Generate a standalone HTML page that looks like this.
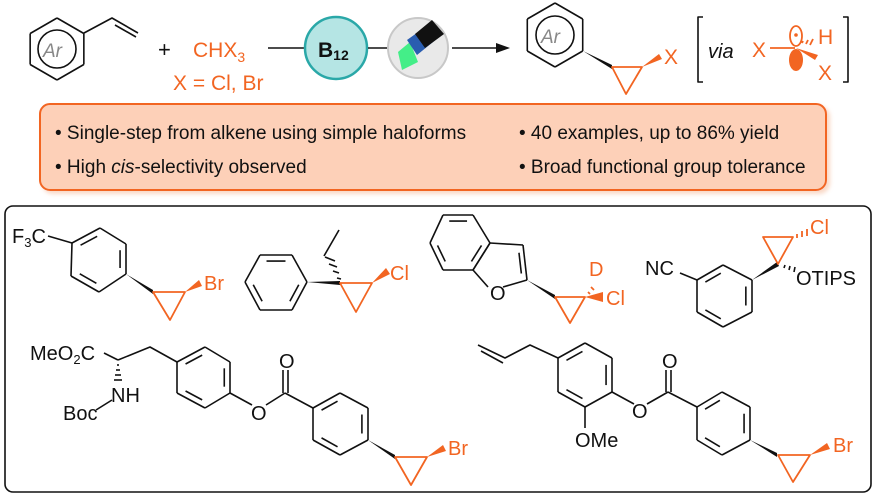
<!DOCTYPE html>
<html><head><meta charset="utf-8"><style>
html,body{margin:0;padding:0;background:#fff;}
svg{display:block;font-family:"Liberation Sans",sans-serif;}
.k{stroke:#111;stroke-width:1.6;fill:none;stroke-linejoin:round}
.o{stroke:#f26522;stroke-width:1.8;fill:none;stroke-linejoin:round}
.ot{fill:#f26522}
.kt{fill:#111}
</style></head><body>
<svg id="s" width="875" height="496" viewBox="0 0 875 496">
<defs><filter id="sh" x="-5%" y="-20%" width="110%" height="140%"><feDropShadow dx="3" dy="3" stdDeviation="2" flood-color="#f9d8c6" flood-opacity="1"/></filter></defs>
<g id="rings"></g>
<circle cx="57" cy="49" r="19" class="k"/>
<text x="43" y="57" font-size="19" font-style="italic" fill="#888">Ar</text>
<polyline class="k" points="84,33 112,18 138,33"/>
<line class="k" x1="115" y1="25" x2="136" y2="37"/>
<text x="158" y="57" font-size="22" class="kt">+</text>
<text x="193" y="57" font-size="21" class="ot">CHX<tspan font-size="14" dy="5">3</tspan></text>
<text x="173" y="90" font-size="21" class="ot">X = Cl, Br</text>
<line class="k" x1="268" y1="48" x2="305" y2="48"/>
<circle cx="336" cy="48" r="31" fill="#b5e5e4" stroke="#2aa8a8" stroke-width="2.5"/>
<text x="318" y="57" font-size="21" font-weight="bold" class="kt">B<tspan font-size="14" dy="3">12</tspan></text>
<line class="k" x1="368" y1="48" x2="388" y2="48"/>
<circle cx="418" cy="48" r="30" fill="#e9e9e9" stroke="#c8c8c8" stroke-width="2"/>
<polygon points="398,52 410,42 418,62 402,70" fill="#44ee88"/>
<polygon points="407,40 428,25 438,38 417,55" fill="#2a5db0"/>
<polygon points="415,34 432,20 444,34 425,48" fill="#111"/>
<line class="k" x1="452" y1="48" x2="500" y2="48"/>
<polygon points="510,48 496,43 496,53" fill="#111"/>
<circle cx="555" cy="35" r="19" class="k"/>
<text x="541" y="43" font-size="19" font-style="italic" fill="#888">Ar</text>
<polygon points="583,51 612,65 612,69" fill="#111"/>
<polygon class="o" points="612,67 642,67 626,94"/>
<polygon points="642,67 659,54 662,59" fill="#f26522"/>
<text x="664" y="64" font-size="21" class="ot">X</text>
<path d="M703,17 H698 V82 H703" class="k"/>
<text x="708" y="58" font-size="20" font-style="italic" class="kt">via</text>
<text x="752" y="57" font-size="21" class="ot">X</text>
<line class="o" x1="770" y1="48" x2="795" y2="48"/>
<ellipse cx="796" cy="36" rx="6" ry="10" class="o"/>
<circle cx="796" cy="35" r="1.8" fill="#f26522"/>
<ellipse cx="796" cy="60" rx="7" ry="11" fill="#f26522"/>
<polygon points="796,48 818,55 815,60" fill="#f26522"/>
<g class="o" stroke-width="1.5"><line x1="802" y1="43" x2="803" y2="41"/><line x1="806" y1="44" x2="808" y2="40"/><line x1="810" y1="45" x2="813" y2="39"/></g>
<text x="818" y="44" font-size="21" class="ot">H</text>
<text x="818" y="80" font-size="21" class="ot">X</text>
<path d="M843,17 H848 V82 H843" class="k"/>
<rect x="40" y="104" width="786" height="86" rx="10" fill="#fdd0b8" stroke="#f26522" stroke-width="2" filter="url(#sh)"/>
<g font-size="19" class="kt">
<text x="55" y="139">• Single-step from alkene using simple haloforms</text>
<text x="55" y="173">• High <tspan font-style="italic">cis</tspan>-selectivity observed</text>
<text x="519" y="139">• 40 examples, up to 86% yield</text>
<text x="519" y="173">• Broad functional group tolerance</text>
</g>
<rect x="5" y="206" width="866" height="286" rx="8" fill="none" stroke="#111" stroke-width="1.6"/>
<g font-size="20">
<text x="12" y="243" class="kt">F<tspan font-size="13" dy="4">3</tspan><tspan dy="-4">C</tspan></text>
<line class="k" x1="48" y1="236" x2="72" y2="243"/>
<polygon points="126,274 153,290 153,294" fill="#111"/>
<polygon class="o" points="153,292 185,292 170,320"/>
<polygon points="185,292 199,280 202,286" fill="#f26522"/>
<text x="204" y="290" class="ot">Br</text>

<polygon points="307,282 340,281 340,285" fill="#111"/>
<polygon class="o" points="340,283 372,283 356,312"/>
<g class="k" stroke-width="1.3"><line x1="337" y1="278" x2="341" y2="279"/><line x1="333" y1="271" x2="339" y2="273"/><line x1="329" y1="264" x2="337" y2="267"/><line x1="325" y1="257" x2="335" y2="261"/></g>
<line class="k" x1="324" y1="256" x2="339" y2="230"/>
<polygon points="372,283 386,268 390,274" fill="#f26522"/>
<text x="390" y="280" class="ot">Cl</text>

<text x="490" y="300" class="kt">O</text>
<polygon points="527,280 555,295 555,299" fill="#111"/>
<polygon class="o" points="555,297 585,297 570,323"/>
<g class="o" stroke-width="1.3"><line x1="588" y1="292" x2="590" y2="294"/><line x1="591" y1="287" x2="594" y2="290"/></g>
<text x="589" y="276" class="ot">D</text>
<polygon points="585,297 603,292 603,302" fill="#f26522"/>
<text x="606" y="305" class="ot">Cl</text>

<text x="645" y="275" class="kt">NC</text>
<line class="k" x1="680" y1="273" x2="697" y2="280"/>
<polygon points="752,280 777,262 779,266" fill="#111"/>
<polygon class="o" points="778,264 763,237 793,237"/>
<g class="o" stroke-width="1.3"><line x1="797" y1="234" x2="797" y2="238"/><line x1="802" y1="231" x2="802" y2="237"/><line x1="807" y1="229" x2="807" y2="236"/></g>
<text x="810" y="234" class="ot">Cl</text>
<g class="k" stroke-width="1.3"><line x1="785" y1="265" x2="784" y2="268"/><line x1="790" y1="266" x2="789" y2="270"/><line x1="795" y1="267" x2="794" y2="272"/></g>
<text x="796" y="285" class="kt">OTIPS</text>

<text x="30" y="360" class="kt">MeO<tspan font-size="13" dy="4">2</tspan><tspan dy="-4">C</tspan></text>
<line class="k" x1="104" y1="353" x2="118" y2="360"/>
<polyline class="k" points="118,360 150,347 177,362"/>
<g class="k" stroke-width="1.3"><line x1="117" y1="365" x2="119" y2="365"/><line x1="116" y1="370" x2="120" y2="370"/><line x1="115" y1="375" x2="121" y2="375"/><line x1="114" y1="380" x2="122" y2="380"/></g>
<text x="111" y="402" class="kt">NH</text>
<text x="63" y="420" class="kt">Boc</text>
<line class="k" x1="96" y1="410" x2="112" y2="400"/>
<line class="k" x1="230" y1="393" x2="252" y2="405"/>
<text x="251" y="420" class="kt">O</text>
<line class="k" x1="266" y1="405" x2="285" y2="393"/>
<line class="k" x1="283" y1="393" x2="283" y2="370"/><line class="k" x1="288" y1="393" x2="288" y2="370"/>
<text x="279" y="368" class="kt">O</text>
<line class="k" x1="285" y1="393" x2="313" y2="408"/>
<polygon points="368,440 395,455 395,459" fill="#111"/>
<polygon class="o" points="395,457 427,457 411,485"/>
<polygon points="427,457 443,445 446,451" fill="#f26522"/>
<text x="448" y="455" class="ot">Br</text>

<polyline class="k" points="478,345 505,358 530,345 558,358"/>
<line class="k" x1="481" y1="351" x2="503" y2="363"/>
<line class="k" x1="585" y1="407" x2="585" y2="428"/>
<text x="575" y="447" class="kt">OMe</text>
<line class="k" x1="612" y1="392" x2="634" y2="404"/>
<text x="632" y="418" class="kt">O</text>
<line class="k" x1="647" y1="404" x2="668" y2="392"/>
<line class="k" x1="666" y1="392" x2="666" y2="370"/><line class="k" x1="671" y1="392" x2="671" y2="370"/>
<text x="662" y="368" class="kt">O</text>
<line class="k" x1="668" y1="392" x2="697" y2="407"/>
<polygon points="750,440 777,453 777,457" fill="#111"/>
<polygon class="o" points="778,455 810,455 793,482"/>
<polygon points="810,455 827,443 830,449" fill="#f26522"/>
<text x="833" y="452" class="ot">Br</text>
</g>
</svg>
<script>
(function(){
var NS="http://www.w3.org/2000/svg",g=document.getElementById("rings");
function ln(a,b,cls){var l=document.createElementNS(NS,"line");l.setAttribute("x1",a[0]);l.setAttribute("y1",a[1]);l.setAttribute("x2",b[0]);l.setAttribute("y2",b[1]);l.setAttribute("class",cls||"k");g.appendChild(l);}
function ring(p,inner,skip){var cx=0,cy=0;p.forEach(function(q){cx+=q[0];cy+=q[1]});cx/=p.length;cy/=p.length;
for(var i=0;i<p.length;i++){var a=p[i],b=p[(i+1)%p.length];if(!(skip&&skip.indexOf(i)>=0))ln(a,b);
if(inner&&inner.indexOf(i)>=0){var f=0.78;var a2=[cx+(a[0]-cx)*f,cy+(a[1]-cy)*f],b2=[cx+(b[0]-cx)*f,cy+(b[1]-cy)*f];
var s=0.12;ln([a2[0]+(b2[0]-a2[0])*s,a2[1]+(b2[1]-a2[1])*s],[b2[0]+(a2[0]-b2[0])*s,b2[1]+(a2[1]-b2[1])*s]);}}}
function hex(cx,cy,r){var p=[];for(var i=0;i<6;i++){var t=(-90+60*i)*Math.PI/180;p.push([cx+r*Math.cos(t),cy+r*Math.sin(t)]);}return p;}
ring(hex(57,49,31));
ring(hex(555,35,32));
ring([[72,243],[100,228],[126,244],[126,274],[99,292],[71,276]],[0,2,4]);
ring([[260,255],[292,255],[307,282],[292,310],[260,310],[245,282]],[0,2,4]);
ring([[443,215],[473,215],[490,243],[473,270],[443,270],[430,243]],[0,2,4]);
ring([[490,243],[523,245],[527,280],[502,289],[473,270]],[1],[2,3]);
ln([527,280],[503,287]);ln([488,287],[473,270]);
ring([[723,265],[752,280],[752,312],[723,327],[697,312],[697,280]],[1,3,5]);
ring([[177,362],[205,347],[230,362],[230,393],[205,408],[177,393]],[0,2,4]);
ring([[313,408],[340,393],[368,408],[368,440],[340,455],[313,440]],[0,2,4]);
ring([[558,358],[585,343],[612,358],[612,392],[585,407],[558,392]],[0,2,4]);
ring([[697,407],[722,392],[750,407],[750,440],[722,455],[697,440]],[0,2,4]);
})();
</script>
</body></html>
